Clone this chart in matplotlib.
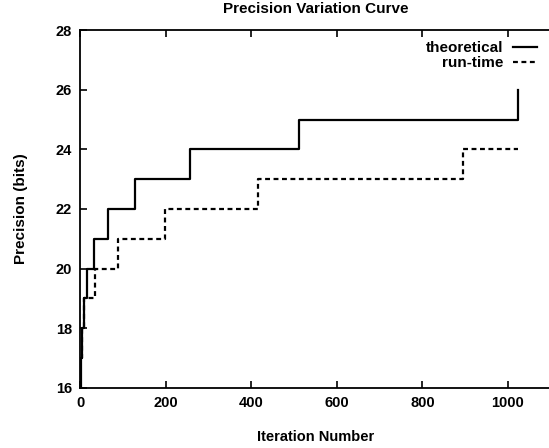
import matplotlib
matplotlib.use("Agg")
import matplotlib.pyplot as plt

plt.rcParams['font.family'] = ['Liberation Sans', 'DejaVu Sans']

# Data
theo_x = [1, 2, 4, 8, 16, 32, 64, 128, 256, 512, 1024, 1024]
theo_y = [16, 17, 18, 19, 20, 21, 22, 23, 24, 25, 25, 26]
run_x = [1, 4, 10, 35, 88, 198, 415, 895, 1024]
run_y = [17, 18, 19, 20, 21, 22, 23, 24, 24]
x_ticks = [0, 200, 400, 600, 800, 1000]
y_ticks = [16, 18, 20, 22, 24, 26, 28]

fig = plt.figure(figsize=(5.49, 4.48), dpi=100)
ax = fig.add_axes([0.146, 0.134, 0.857, 0.799])

ax.step(theo_x, theo_y, where='post', color='black', lw=1.6, label='theoretical')
ax.step(run_x, run_y, where='post', color='black', lw=1.6, ls=(0, (2.2, 1.6)), label='run-time')

ax.set_xlim(0, 1100)
ax.set_ylim(16, 28)
ax.set_xticks(x_ticks)
ax.set_yticks(y_ticks)
ax.tick_params(direction='in', top=True, right=False, length=5, width=1.2, labelsize=10.5, pad=6)
for lab in ax.get_xticklabels() + ax.get_yticklabels():
    lab.set_fontweight('bold')
for s in ax.spines.values():
    s.set_linewidth(1.3)
ax.spines['right'].set_visible(False)

ax.set_title('Precision Variation Curve', fontsize=11, fontweight='bold', pad=12)
ax.set_xlabel('Iteration Number', fontsize=10.5, fontweight='bold', labelpad=14)
ax.set_ylabel('Precision (bits)', fontsize=11, fontweight='bold', labelpad=20)

leg = ax.legend(loc='upper right', frameon=False, markerfirst=False,
                handlelength=1.6, handletextpad=0.6, borderaxespad=0.0, labelspacing=0.05,
                prop={'weight': 'bold', 'size': 11}, bbox_to_anchor=(0.985, 0.985))

fig.savefig('out.png', dpi=100)
